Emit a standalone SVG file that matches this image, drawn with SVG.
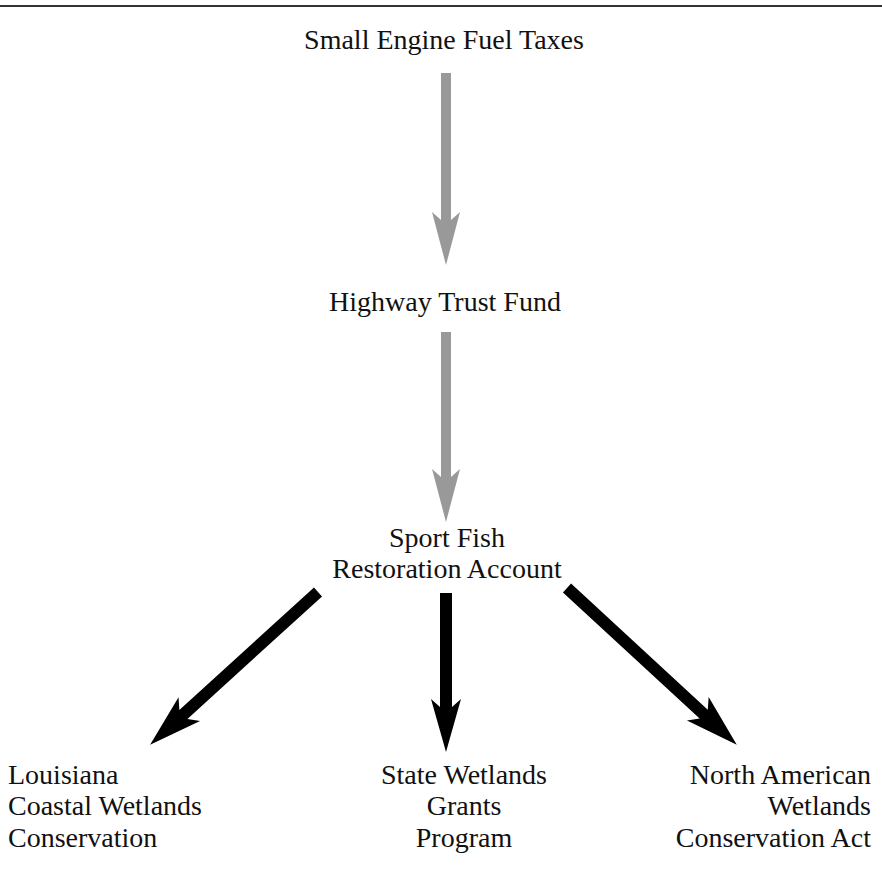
<svg xmlns="http://www.w3.org/2000/svg" width="882" height="877" viewBox="0 0 882 877">
<style>
text{font-family:"Liberation Serif","Times New Roman",serif;font-size:28px;fill:#111}
.gray{fill:#999}
.black{fill:#000}
</style>
<rect width="882" height="877" fill="#fff"/>
<line x1="0" y1="6" x2="882" y2="6" stroke="#333" stroke-width="2"/>
<g id="connectors">
<polygon class="gray" transform="translate(446,73) rotate(90)" points="0,-5 147,-5 139,-14 192,0 139,14 147,5 0,5"/>
<polygon class="gray" transform="translate(446,332) rotate(90)" points="0,-5 145,-5 137,-14 190,0 137,14 145,5 0,5"/>
<polygon class="black" transform="translate(318,592) rotate(137.7)" points="0,-6 182,-6 174,-16 227,0 174,16 182,6 0,6"/>
<polygon class="black" transform="translate(446,593) rotate(90)" points="0,-6 114,-6 106,-15 159,0 106,15 114,6 0,6"/>
<polygon class="black" transform="translate(567,588) rotate(42.7)" points="0,-6 186,-6 178,-16 231,0 178,16 186,6 0,6"/>
</g>
<g id="fuel-taxes"><text x="444" y="49" text-anchor="middle">Small Engine Fuel Taxes</text></g>
<g id="highway-trust-fund"><text x="445" y="311" text-anchor="middle">Highway Trust Fund</text></g>
<g id="sport-fish"><text x="447" y="547" text-anchor="middle">Sport Fish</text><text x="447" y="578" text-anchor="middle">Restoration Account</text></g>
<g id="louisiana"><text x="8" y="784">Louisiana</text><text x="8" y="815">Coastal Wetlands</text><text x="8" y="847">Conservation</text></g>
<g id="state-wetlands"><text x="464" y="784" text-anchor="middle">State Wetlands</text><text x="464" y="815" text-anchor="middle">Grants</text><text x="464" y="847" text-anchor="middle">Program</text></g>
<g id="north-american"><text x="871" y="784" text-anchor="end">North American</text><text x="871" y="815" text-anchor="end">Wetlands</text><text x="871" y="847" text-anchor="end">Conservation Act</text></g>
</svg>
